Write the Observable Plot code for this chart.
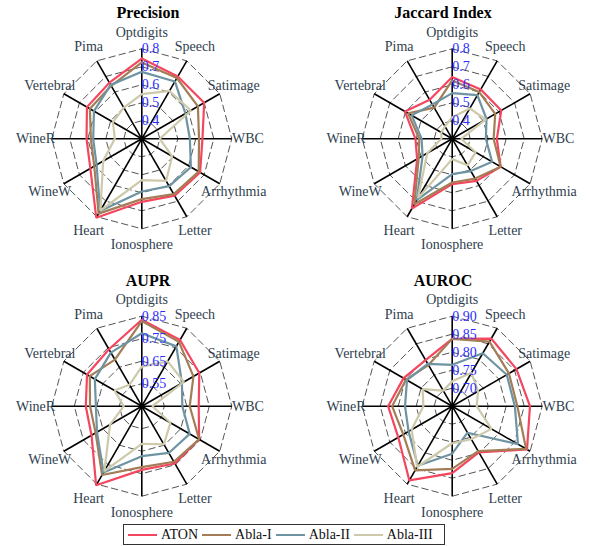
<!DOCTYPE html>
<html>
<head>
<meta charset="utf-8">
<script src="https://cdn.jsdelivr.net/npm/d3@7"></script>
<script src="https://cdn.jsdelivr.net/npm/@observablehq/plot@0.6"></script>
<style>
  html, body { margin: 0; padding: 0; background: #fff; }
  #wrap { position: relative; width: 590px; height: 546px; overflow: hidden;
          font-family: "Liberation Serif", "Times New Roman", serif; }
  .panel { position: absolute; }
  #legend { position: absolute; left: 123px; top: 524px; width: 322px; height: 21px;
            box-sizing: border-box; border: 1px solid #333; background: #fff;
            display: flex; align-items: center; font-size: 14px; color: #111; }
  .item { display: flex; align-items: center; }
  .sw { display: inline-block; width: 29px; height: 0; border-top: 2px solid; margin: 0 4px 0 4px; }
</style>
</head>
<body>
<div id="wrap"><div id="legend"></div></div>
<script>
// ---- data ----
const datasets = ["Optdigits", "Speech", "Satimage", "WBC", "Arrhythmia", "Letter",
                  "Ionosphere", "Heart", "WineW", "WineR", "Vertebral", "Pima"];
const methods = ["ATON", "Abla-I", "Abla-II", "Abla-III"];
const colors = ["#f4465f", "#a37d55", "#6e94a3", "#cdc9aa"];

// values per method, in dataset order
const precision = [
  [0.746, 0.700, 0.700, 0.637, 0.674, 0.665, 0.650, 0.806, 0.630, 0.607, 0.652, 0.660],
  [0.724, 0.690, 0.660, 0.618, 0.665, 0.655, 0.635, 0.780, 0.605, 0.583, 0.633, 0.640],
  [0.672, 0.668, 0.580, 0.567, 0.615, 0.604, 0.593, 0.763, 0.590, 0.570, 0.607, 0.646],
  [0.548, 0.607, 0.615, 0.400, 0.495, 0.570, 0.530, 0.760, 0.548, 0.450, 0.485, 0.500]
];
const jaccard = [
  [0.643, 0.617, 0.615, 0.548, 0.611, 0.570, 0.552, 0.748, 0.525, 0.504, 0.603, 0.550],
  [0.624, 0.600, 0.576, 0.530, 0.611, 0.555, 0.543, 0.720, 0.515, 0.483, 0.583, 0.500],
  [0.554, 0.580, 0.520, 0.487, 0.556, 0.507, 0.496, 0.694, 0.490, 0.470, 0.560, 0.520],
  [0.420, 0.495, 0.515, 0.350, 0.450, 0.470, 0.413, 0.680, 0.460, 0.360, 0.370, 0.380]
];
const aupr = [
  [0.834, 0.790, 0.745, 0.703, 0.744, 0.744, 0.733, 0.856, 0.708, 0.699, 0.731, 0.742],
  [0.828, 0.780, 0.715, 0.663, 0.744, 0.735, 0.721, 0.803, 0.687, 0.680, 0.717, 0.689],
  [0.774, 0.757, 0.656, 0.630, 0.696, 0.690, 0.672, 0.790, 0.680, 0.654, 0.691, 0.725],
  [0.626, 0.680, 0.666, 0.497, 0.597, 0.646, 0.617, 0.783, 0.613, 0.530, 0.590, 0.560]
];
const auroc = [
  [0.837, 0.867, 0.856, 0.866, 0.890, 0.798, 0.836, 0.888, 0.823, 0.828, 0.806, 0.798],
  [0.837, 0.857, 0.832, 0.831, 0.887, 0.794, 0.824, 0.856, 0.807, 0.817, 0.798, 0.782],
  [0.765, 0.820, 0.825, 0.824, 0.861, 0.735, 0.782, 0.841, 0.790, 0.781, 0.795, 0.786],
  [0.719, 0.757, 0.733, 0.718, 0.776, 0.756, 0.753, 0.845, 0.780, 0.730, 0.745, 0.700]
];

// radial domains and ring ticks
const precisionDomain = [0.3, 0.8];
const jaccardDomain = [0.3, 0.8];
const auprDomain = [0.45, 0.85];
const aurocDomain = [0.65, 0.90];
const precisionTicks = ["0.4", "0.5", "0.6", "0.7", "0.8"];
const jaccardTicks = ["0.4", "0.5", "0.6", "0.7", "0.8"];
const auprTicks = ["0.55", "0.65", "0.75", "0.85"];
const aurocTicks = ["0.70", "0.75", "0.80", "0.85", "0.90"];

// ---- drawing ----
const FONT = '"Liberation Serif", "Times New Roman", serif';
const n = datasets.length;
const ang = i => 2 * Math.PI * (i % n) / n;

function radar({title, values, domain, ticks, left, top, width, height, cx, cy, titleY}) {
  const rs = d3.scaleLinear().domain(domain).range([0, 1]);
  const rings = ticks.flatMap(t => d3.range(n + 1).map(i => ({
    t, x: rs(+t) * Math.sin(ang(i)), y: rs(+t) * Math.cos(ang(i))
  })));
  const spokes = datasets.map((d, i) => ({x: Math.sin(ang(i)), y: Math.cos(ang(i))}));
  const series = methods.flatMap((m, j) => d3.range(n + 1).map(i => ({
    method: m, x: rs(values[j][i % n]) * Math.sin(ang(i)), y: rs(values[j][i % n]) * Math.cos(ang(i))
  })));
  const labelR = 1.18;
  const labels = datasets.map((d, i) => ({name: d, x: labelR * Math.sin(ang(i)), y: labelR * Math.cos(ang(i))}));
  const tickRows = ticks.map(t => ({t, y: rs(+t)}));

  const svg = Plot.plot({
    width, height,
    margin: 0,
    style: {fontFamily: FONT, background: "transparent", overflow: "visible"},
    x: {domain: [-1, 1], range: [cx - 90, cx + 90], axis: null},
    y: {domain: [-1, 1], range: [cy + 90, cy - 90], axis: null},
    color: {domain: methods, range: colors},
    marks: [
      Plot.line(rings, {x: "x", y: "y", z: "t", stroke: "#555", strokeWidth: 1, strokeDasharray: "6.5,4"}),
      Plot.link(spokes, {x1: 0, y1: 0, x2: "x", y2: "y", stroke: "#000", strokeWidth: 1.6}),
      Plot.dot([0], {x: 0, y: 0, r: 2.5, fill: "#000"}),
      Plot.line(series, {x: "x", y: "y", z: "method", stroke: "method", strokeWidth: 2.2, strokeLinejoin: "miter"}),
      Plot.text(tickRows, {x: 0, y: "y", text: "t", textAnchor: "start", lineAnchor: "middle",
                           fill: "#2d2dff", fontSize: 14}),
      Plot.text(labels, {x: "x", y: "y", text: "name", textAnchor: "middle", lineAnchor: "middle",
                         fill: "#2f3e4e", fontSize: 14}),
      Plot.text([title], {frameAnchor: "top", dy: titleY, lineAnchor: "middle", fontWeight: "bold",
                          fontSize: 16, fill: "#000"})
    ]
  });
  svg.classList.add("panel");
  svg.style.left = left + "px";
  svg.style.top = top + "px";
  return svg;
}

const wrap = document.getElementById("wrap");
const legendEl = document.getElementById("legend");
wrap.insertBefore(radar({title: "Precision", values: precision, domain: precisionDomain, ticks: precisionTicks,
  left: 0, top: 0, width: 295, height: 267, cx: 141.3, cy: 138.3, titleY: 12}), legendEl);
wrap.insertBefore(radar({title: "Jaccard Index", values: jaccard, domain: jaccardDomain, ticks: jaccardTicks,
  left: 295, top: 0, width: 295, height: 267, cx: 156.7, cy: 138.3, titleY: 12}), legendEl);
wrap.insertBefore(radar({title: "AUPR", values: aupr, domain: auprDomain, ticks: auprTicks,
  left: 0, top: 267, width: 295, height: 279, cx: 141.3, cy: 138.7, titleY: 13}), legendEl);
wrap.insertBefore(radar({title: "AUROC", values: auroc, domain: aurocDomain, ticks: aurocTicks,
  left: 295, top: 267, width: 295, height: 279, cx: 156.7, cy: 138.7, titleY: 13}), legendEl);

// legend
methods.forEach((m, i) => {
  const item = document.createElement("span");
  item.className = "item";
  const sw = document.createElement("span");
  sw.className = "sw";
  sw.style.borderTopColor = colors[i];
  const lab = document.createElement("span");
  lab.textContent = m;
  item.appendChild(sw);
  item.appendChild(lab);
  legendEl.appendChild(item);
});
</script>
</body>
</html>
